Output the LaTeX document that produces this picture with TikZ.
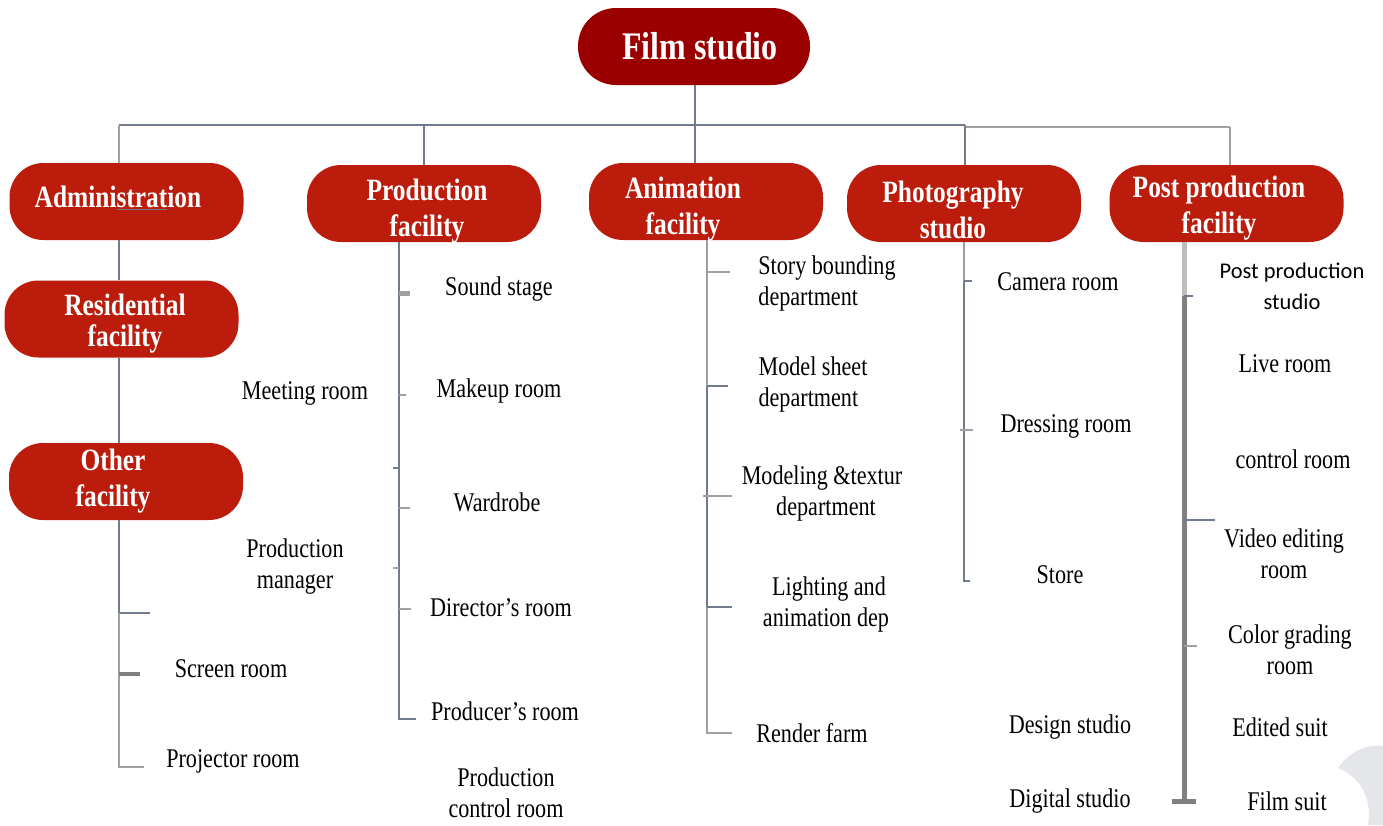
\documentclass[tikz,border=0pt]{standalone}
\usepackage{fontspec}
\setmainfont{Liberation Serif}[FakeStretch=0.82]
\newfontfamily\calib{Carlito}
\definecolor{darkred}{RGB}{155,0,0}
\definecolor{boxred}{RGB}{187,28,12}
\definecolor{lblue}{RGB}{112,124,140}
\definecolor{lgray}{RGB}{160,160,160}
\definecolor{wmark}{RGB}{228,230,234}
\begin{document}
\begin{tikzpicture}[x=1pt,y=-1pt,
  box/.style={fill=boxred, rounded corners=34pt, minimum width=234pt, minimum height=77pt, inner sep=0pt},
  bt/.style={text=white, font=\fontsize{31}{36}\selectfont\bfseries, align=center, inner sep=0pt, yshift=-3.5pt},
  lt/.style={font=\fontsize{27}{31}\selectfont, align=center, inner sep=0pt, yshift=-0.5pt},
  ln/.style={draw=lblue, line width=1.4pt},
  lg/.style={draw=lgray, line width=1.4pt}]
\useasboundingbox (0,0) rectangle (1383,825);
% watermark
\fill[wmark] (1338,768) .. controls (1352,748) and (1372,744) .. (1383,746) -- (1383,825) -- (1368,825) .. controls (1372,800) and (1362,778) .. (1338,768) -- cycle;
% boxes
\node[box, fill=darkred, minimum width=232pt, rounded corners=38pt] (film) at (694,46.5) {};
\node[text=white, font=\fontsize{39}{40}\selectfont\bfseries, inner sep=0pt] (filmt) at (700,46) {Film studio};
\node[box] (adm) at (126.5,201.5) {};
\node[box] (prod) at (424,203.5) {};
\node[box] (anim) at (706,201.5) {};
\node[box] (photo) at (964,203.5) {};
\node[box] (post) at (1226.5,203.5) {};
\node[box] (res) at (121.5,319) {};
\node[box] (oth) at (126,481.5) {};
\node[bt, yshift=3.5pt] (admt) at (118,197) {Administration};
\node[bt] (prodt) at (427,208) {Production\\facility};
\node[bt] (animt) at (683,206) {Animation\\facility};
\node[bt, yshift=3pt] (photot) at (953,209) {Photography\\studio};
\node[bt] (postt) at (1219,205) {Post production\\facility};
\node[bt, font=\fontsize{31}{31}\selectfont\bfseries] (rest) at (125,320) {Residential\\facility};
\node[bt] (otht) at (113,478) {Other\\facility};
\draw[ln, line width=1pt] (117,209) -- (167,209);
% bus
\coordinate (b1) at (119,125);
\coordinate (b2) at (424,125);
\coordinate (b4) at (965,125);
\coordinate (b5) at (1230,127);
\draw[ln] (b1) -- (b4);
\draw[lg, line width=1.2pt] (b4 |- b5) -- (b5);
\draw[ln] (film.south -| 695,0) -- (695,163);
\draw[lg] (b1) -- (b1 |- adm.north);
\draw[ln] (b2) -- (prod.north);
\draw[ln] (b4) -- (b4 |- photo.north);
\draw[lg, line width=1.2pt] (b5) -- (b5 |- post.north);
% left column
\coordinate (c1) at (119,0);
\draw[ln] (adm.south -| c1) -- (res.north -| c1);
\draw[ln] (res.south -| c1) -- (oth.north -| c1);
\draw[ln] (oth.south -| c1) -- (119,613) -- (150,613);
\draw[lg] (119,613) -- (119,767) -- (144,767);
\draw[draw=gray, line width=4pt] (119,674) -- (140,674);
\node[lt] (meet) at (305,393) {Meeting room};
\node[lt] (pman) at (295,566) {Production\\manager};
\node[lt] (scr) at (231,668) {Screen room};
\node[lt] (proj) at (233,761) {Projector room};
% production column
\coordinate (c2) at (399,0);
\draw[ln] (prod.south -| c2) -- (399,719) -- (416,719);
\draw[draw=lgray, line width=5pt] (399,293) -- (410,293);
\draw[lg] (399,395) -- (406,395);
\draw[ln] (393,468) -- (399,468);
\draw[lg] (399,508) -- (410,508);
\draw[lg] (393,568) -- (399,568);
\draw[lg] (399,609) -- (411,609);
\node[lt] (snd) at (499,289) {Sound stage};
\node[lt] (mak) at (499,390) {Makeup room};
\node[lt] (war) at (497,502) {Wardrobe};
\node[lt] (dir) at (501,607) {Director’s room};
\node[lt] (pro) at (505,711) {Producer’s room};
\node[lt] (pcr) at (506,792) {Production\\control room};
% animation column
\coordinate (c3) at (707,0);
\draw[lg] (anim.south -| c3) -- (707,386);
\draw[ln] (707,386) -- (707,607);
\draw[lg] (707,607) -- (707,733) -- (732,733);
\draw[lg] (707,272) -- (730,272);
\draw[ln] (707,386) -- (728,386);
\draw[lg] (703,496) -- (732,496);
\draw[ln] (707,607) -- (732,607);
\node[lt, align=left] (sto) at (827,283) {Story bounding\\department};
\node[lt, align=left] (mod) at (813,384) {Model sheet\\department};
\node[lt] (mdl) at (822,493) {Modeling \&textur\\\hspace*{8pt}department};
\node[lt] (lig) at (826,604) {\hspace*{6pt}Lighting and\\animation dep};
\node[lt] (ren) at (812,733) {Render farm};
% photography column
\coordinate (c4) at (964,0);
\draw[lg] (photo.south -| c4) -- (964,281);
\draw[ln] (964,281) -- (964,581) -- (970,581);
\draw[ln] (964,281) -- (972,281);
\draw[lg] (960,430) -- (973,430);
\node[lt] (cam) at (1058,281) {Camera room};
\node[lt] (dre) at (1066,426) {Dressing room};
\node[lt] (sto2) at (1060,574) {Store};
\node[lt] (des) at (1070,727) {Design studio};
\node[lt] (dig) at (1070,801) {Digital studio};
% post production column
\coordinate (c5) at (1184,0);
\draw[draw=lgray!70, line width=5pt] (post.south -| c5) -- (1184,296);
\draw[draw=gray, line width=5pt] (1184,296) -- (1184,801);
\draw[draw=gray, line width=5pt] (1172,801) -- (1196,801);
\draw[ln] (1184,296) -- (1193,296);
\draw[ln] (1184,520) -- (1215,520);
\draw[lg] (1184,646) -- (1197,646);
\node[font=\calib\fontsize{22.5}{31}\selectfont, align=center, inner sep=0pt] (pps) at (1292,286) {Post production\\studio};
\node[lt] (liv) at (1285,363) {Live room};
\node[lt] (ctl) at (1293,459) {control room};
\node[lt] (vid) at (1284,553) {Video editing\\room};
\node[lt] (col) at (1290,649) {Color grading\\room};
\node[lt] (edi) at (1280,727) {Edited suit};
\node[lt] (fil) at (1287,801) {Film suit};
\end{tikzpicture}
\end{document}
